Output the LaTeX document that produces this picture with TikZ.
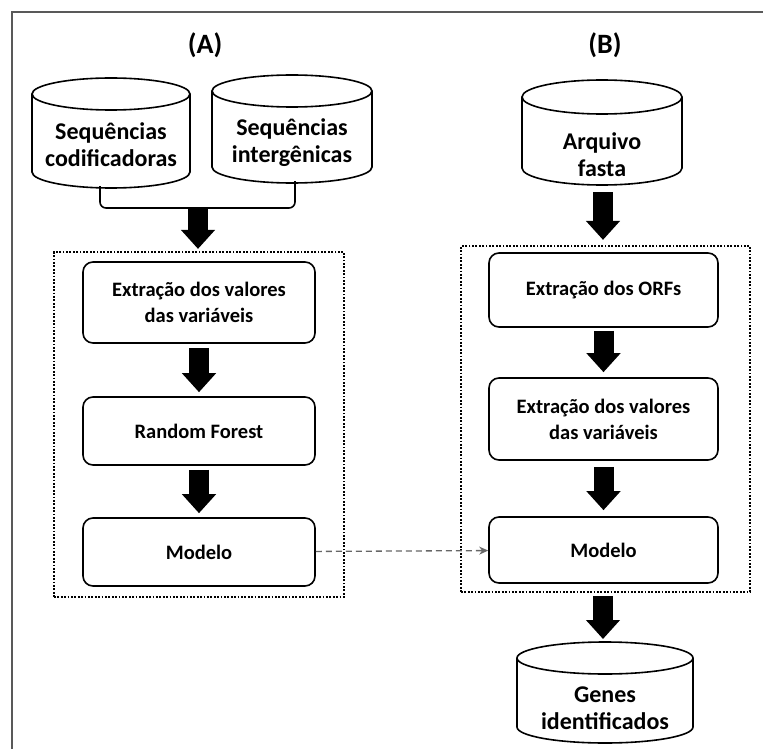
\documentclass[tikz,border=0pt]{standalone}
\usepackage{fontspec}
\setmainfont{Carlito}
\usetikzlibrary{arrows.meta}
\newcommand\cylinderpath[5]{%
  \draw[cyl] (#1-#4,#2) -- (#1-#4,#3) arc[start angle=180,end angle=360,x radius=#4,y radius=#5] -- (#1+#4,#2);
  \draw[cyl] (#1,#2) ellipse[x radius=#4, y radius=#5];}
\begin{document}
\begin{tikzpicture}[x=1pt,y=1pt,
  cyl/.style={draw=black, line width=1.6pt, fill=white},
  cyltext/.style={font=\fontsize{24}{27}\selectfont\bfseries, align=center, inner sep=0pt},
  procbox/.style={draw=black, line width=1.6pt, rounded corners=10pt, align=center, inner sep=0pt,
     font=\fontsize{20.5}{26}\selectfont\bfseries},
  dotbox/.style={draw=black, line width=2.2pt, dash pattern=on 1.8pt off 1.6pt, inner sep=0pt},
  blockarrow/.style={draw=black, line width=20pt, -{Triangle[width=33pt,length=19pt]}},
  titletext/.style={font=\fontsize{28}{32}\selectfont\bfseries},
  framestyle/.style={draw=black!65, line width=1.5pt}]
\useasboundingbox (0,0) rectangle (763,-749);
\draw[framestyle] (12,-749) -- (12,-12) -- (763,-12);

% titles
\node[titletext] (tA) at (205,-45) {(A)};
\node[titletext] (tB) at (605,-45) {(B)};

% (A) inputs
\cylinderpath{111}{-94}{-172}{79}{16}
\node[cyltext] (sc) at (111,-145) {Sequências\\codificadoras};
\cylinderpath{292}{-91}{-167}{80}{16}
\node[cyltext] (si) at (292,-143) {Sequências\\intergênicas};
\coordinate (brL) at (100,-186);
\coordinate (brR) at (295,-181);
\coordinate (brM) at (198,-208);
\draw[line width=1.6pt, rounded corners=6pt] (brL) |- (brR |- brM) -- (brR);

% (A) pipeline
\node[dotbox, minimum width=290pt, minimum height=345pt] (boxA) at (199,-424.5) {};
\node[procbox, minimum width=232pt, minimum height=81pt] (eA) at (199,-302.5) {Extração dos valores\\das variáveis};
\node[procbox, minimum width=232pt, minimum height=68pt] (rf) at (199,-431) {Random Forest};
\node[procbox, minimum width=232pt, minimum height=68pt] (mA) at (199,-552) {Modelo};
\draw[blockarrow, shorten >=2pt] (brM) -- (brM |- boxA.north);
\draw[blockarrow, shorten <=4pt, shorten >=4pt] (eA) -- (rf);
\draw[blockarrow, shorten <=4pt, shorten >=4pt] (rf) -- (mA);

% (B)
\cylinderpath{602}{-97}{-168}{80}{17}
\node[cyltext] (af) at (602,-155) {Arquivo\\fasta};
\coordinate (afb) at (603,-192);
\node[dotbox, minimum width=289pt, minimum height=346pt] (boxB) at (605.5,-419) {};
\node[procbox, minimum width=229pt, minimum height=74pt] (orf) at (603.5,-290) {Extração dos ORFs};
\node[procbox, minimum width=229pt, minimum height=82pt] (eB) at (603.5,-419) {Extração dos valores\\das variáveis};
\node[procbox, minimum width=229pt, minimum height=66pt] (mB) at (603.5,-550) {Modelo};
\draw[blockarrow, shorten >=5pt] (afb) -- (afb |- boxB.north);
\draw[blockarrow, shorten <=3pt, shorten >=5pt] (orf) -- (eB);
\draw[blockarrow, shorten <=6pt, shorten >=6pt] (eB) -- (mB);

% output
\cylinderpath{605}{-658}{-727}{88}{16}
\node[cyltext] (gi) at (605,-708) {Genes\\identificados};
\coordinate (gtop) at (603,-642);
\draw[blockarrow, shorten <=3pt, shorten >=3pt] (gtop |- boxB.south) -- (gtop);

% link
\draw[draw=black!60, line width=1.3pt, dash pattern=on 6pt off 4pt, -{Stealth[length=9pt,width=8pt]}] (mA) -- (mB);
\end{tikzpicture}
\end{document}
